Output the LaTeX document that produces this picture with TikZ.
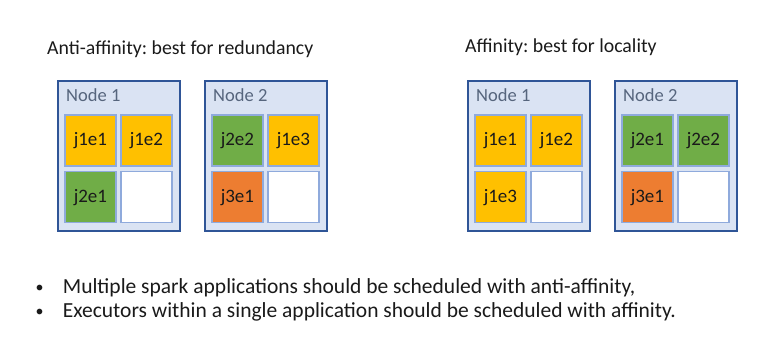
\documentclass[tikz,border=0pt]{standalone}
\usepackage{fontspec}
\setmainfont{Carlito}
\frenchspacing
\definecolor{boxfill}{HTML}{DAE3F3}
\definecolor{boxdraw}{HTML}{2F5597}
\definecolor{celldraw}{HTML}{8FAADC}
\definecolor{cyellow}{HTML}{FFC000}
\definecolor{cgreen}{HTML}{70AD47}
\definecolor{corange}{HTML}{ED7D31}
\definecolor{labgray}{HTML}{56657D}
\definecolor{txt}{HTML}{1A1A1A}
\tikzset{
  hostbox/.style={draw=boxdraw, fill=boxfill, line width=2pt, minimum width=122pt, minimum height=150pt, inner sep=0pt, anchor=north west},
  cell/.style={draw=celldraw, line width=1.2pt, minimum width=51pt, minimum height=51pt, inner sep=0pt, anchor=north west, text=txt, font=\fontsize{19}{20}\selectfont},
  yel/.style={cell, fill=cyellow},
  grn/.style={cell, fill=cgreen},
  org/.style={cell, fill=corange},
  wht/.style={cell, fill=white},
  hostlab/.style={anchor=base west, inner sep=0pt, text=labgray, font=\fontsize{18.5}{20}\selectfont},
  title/.style={anchor=base west, inner sep=0pt, text=txt, font=\fontsize{19.8}{22}\selectfont},
  bullettext/.style={anchor=base west, inner sep=0pt, text=txt, font=\fontsize{21.5}{24}\selectfont},
  bulletdot/.style={anchor=base, inner sep=0pt, text=txt, font=\fontsize{16}{18}\selectfont},
}
\begin{document}
\begin{tikzpicture}[x=1pt,y=-1pt]
\useasboundingbox (0,0) rectangle (777,348);
% titles
\node[title] (t1) at (47,54) {Anti-affinity: best for redundancy};
\node[title] (t2) at (465,52) {Affinity: best for locality};
% left group
\node[hostbox] (L1) at (57,80) {};
\node[hostlab] (L1l) at (66,101) {Node 1};
\node[yel] (L1a) at (64.3,114.3) {j1e1};
\node[yel] (L1b) at (120.3,114.3) {j1e2};
\node[grn] (L1c) at (64.3,171) {j2e1};
\node[wht] (L1d) at (120.3,171) {};
\node[hostbox] (L2) at (204,80) {};
\node[hostlab] (L2l) at (213,101) {Node 2};
\node[grn] (L2a) at (211.3,114.3) {j2e2};
\node[yel] (L2b) at (267.3,114.3) {j1e3};
\node[org] (L2c) at (211.3,171) {j3e1};
\node[wht] (L2d) at (267.3,171) {};
% right group
\node[hostbox] (R1) at (467,80) {};
\node[hostlab] (R1l) at (476,101) {Node 1};
\node[yel] (R1a) at (474.3,114.3) {j1e1};
\node[yel] (R1b) at (530.3,114.3) {j1e2};
\node[yel] (R1c) at (474.3,171) {j1e3};
\node[wht] (R1d) at (530.3,171) {};
\node[hostbox] (R2) at (614,80) {};
\node[hostlab] (R2l) at (623,101) {Node 2};
\node[grn] (R2a) at (621.3,114.3) {j2e1};
\node[grn] (R2b) at (677.3,114.3) {j2e2};
\node[org] (R2c) at (621.3,171) {j3e1};
\node[wht] (R2d) at (677.3,171) {};
% bullets
\node[bulletdot] (b1) at (39.7,292.5) {•};
\node[bullettext] (b1t) at (62.7,293.3) {Multiple spark applications should be scheduled with anti-affinity,};
\node[bulletdot] (b2) at (39.7,316.5) {•};
\node[bullettext] (b2t) at (62.7,317.3) {Executors within a single application should be scheduled with affinity.};
\end{tikzpicture}
\end{document}
